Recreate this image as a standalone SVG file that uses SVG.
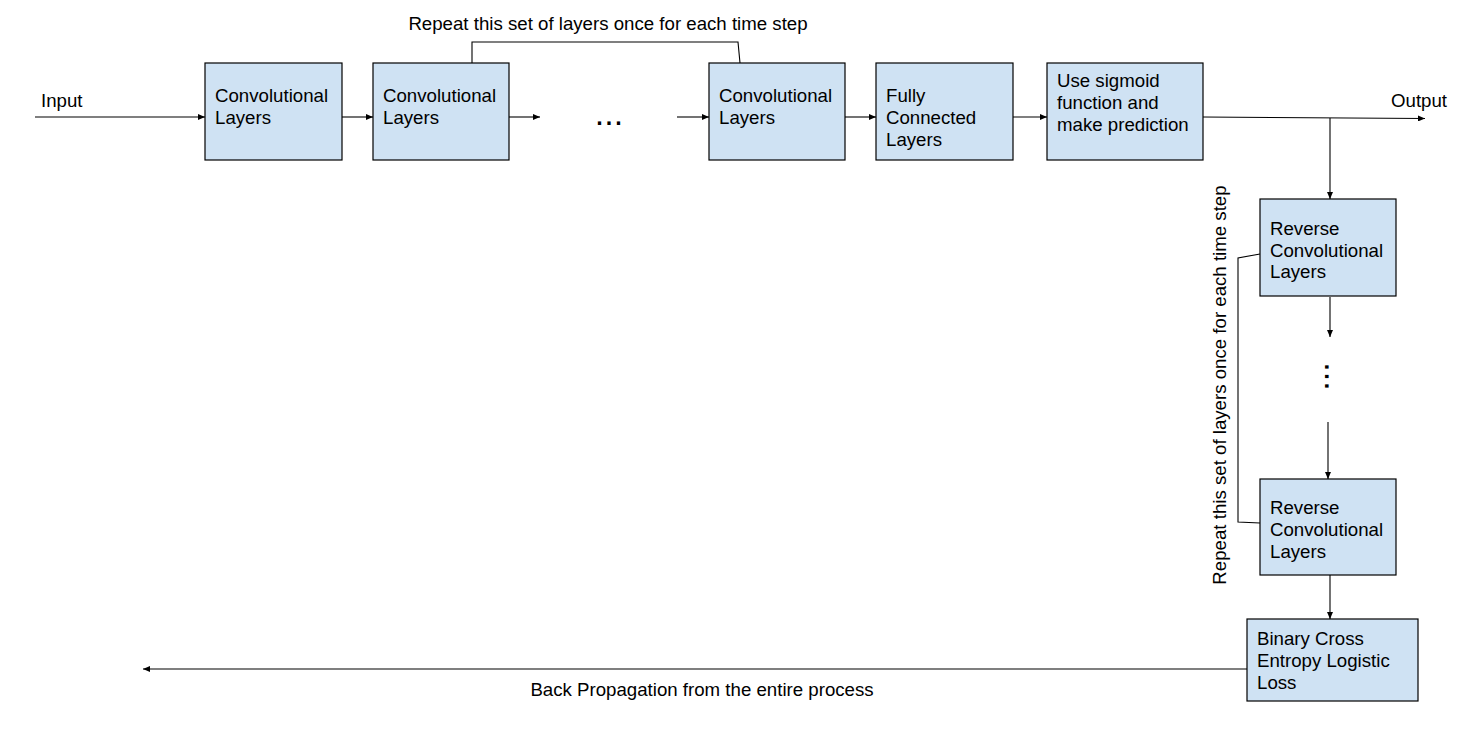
<svg xmlns="http://www.w3.org/2000/svg" width="1466" height="729" viewBox="0 0 1466 729">
<defs>
<marker id="ah" markerWidth="8" markerHeight="6" refX="7" refY="3" orient="auto" markerUnits="userSpaceOnUse">
<path d="M0,0 L7,3 L0,6 Z" fill="#000"/>
</marker>
<style>
.box{fill:#cfe2f3;stroke:#000;stroke-width:1.2}
.t{font-family:"Liberation Sans",Arial,sans-serif;font-size:18.67px;fill:#000}
.dots{font-family:"Liberation Sans",Arial,sans-serif;font-size:34px;fill:#000}
.c{fill:none;stroke:#000;stroke-width:1.1}
.a{marker-end:url(#ah)}
</style>
</defs>
<rect width="1466" height="729" fill="#fff"/>
<g id="connectors">
<line class="c a" x1="35" y1="117" x2="205" y2="117"/>
<line class="c a" x1="342" y1="117" x2="373" y2="117"/>
<line class="c a" x1="509" y1="117" x2="540" y2="117"/>
<line class="c a" x1="677" y1="117" x2="709" y2="117"/>
<line class="c a" x1="845" y1="117" x2="876" y2="117"/>
<line class="c a" x1="1013" y1="117" x2="1047" y2="117"/>
<line class="c a" x1="1203" y1="117" x2="1425" y2="118.5"/>
<line class="c a" x1="1330" y1="118" x2="1330" y2="199"/>
<line class="c a" x1="1330" y1="297" x2="1330" y2="337"/>
<line class="c a" x1="1328" y1="422" x2="1328" y2="479"/>
<line class="c a" x1="1330" y1="575" x2="1330" y2="619"/>
<line class="c a" x1="1247" y1="669" x2="143" y2="669"/>
<polyline class="c" points="472,63 472,42 738,42 740,63"/>
<polyline class="c" points="1260,254 1238,258 1238,522 1260,523"/>
</g>
<g id="input"><text class="t" x="41" y="107">Input</text></g>
<g id="output"><text class="t" x="1391" y="107">Output</text></g>
<g id="repeat-top"><text class="t" x="608" y="30" text-anchor="middle">Repeat this set of layers once for each time step</text></g>
<g id="conv1">
<rect class="box" x="205" y="63" width="137" height="97"/>
<text class="t" x="215" y="102">Convolutional</text>
<text class="t" x="215" y="124">Layers</text>
</g>
<g id="conv2">
<rect class="box" x="373" y="63" width="136" height="97"/>
<text class="t" x="383" y="102">Convolutional</text>
<text class="t" x="383" y="124">Layers</text>
</g>
<g id="hdots"><text class="dots" x="609" y="125" text-anchor="middle">...</text></g>
<g id="conv3">
<rect class="box" x="709" y="63" width="136" height="97"/>
<text class="t" x="719" y="102">Convolutional</text>
<text class="t" x="719" y="124">Layers</text>
</g>
<g id="fc">
<rect class="box" x="876" y="63" width="137" height="97"/>
<text class="t" x="886" y="102">Fully</text>
<text class="t" x="886" y="124">Connected</text>
<text class="t" x="886" y="146">Layers</text>
</g>
<g id="sigmoid">
<rect class="box" x="1047" y="63" width="156" height="97"/>
<text class="t" x="1057" y="87">Use sigmoid</text>
<text class="t" x="1057" y="109">function and</text>
<text class="t" x="1057" y="131">make prediction</text>
</g>
<g id="rev1">
<rect class="box" x="1260" y="199" width="136" height="97"/>
<text class="t" x="1270" y="235">Reverse</text>
<text class="t" x="1270" y="256.5">Convolutional</text>
<text class="t" x="1270" y="278">Layers</text>
</g>
<g id="vdots"><text class="dots" transform="translate(1327,376.5) rotate(90)" x="0" y="2" text-anchor="middle">...</text></g>
<g id="rev2">
<rect class="box" x="1260" y="479" width="136" height="96"/>
<text class="t" x="1270" y="514">Reverse</text>
<text class="t" x="1270" y="536">Convolutional</text>
<text class="t" x="1270" y="558">Layers</text>
</g>
<g id="repeat-side"><text class="t" transform="translate(1226,385) rotate(-90)" text-anchor="middle">Repeat this set of layers once for each time step</text></g>
<g id="loss">
<rect class="box" x="1247" y="619" width="171" height="82"/>
<text class="t" x="1257" y="645">Binary Cross</text>
<text class="t" x="1257" y="667">Entropy Logistic</text>
<text class="t" x="1257" y="689">Loss</text>
</g>
<g id="backprop"><text class="t" x="702" y="696" text-anchor="middle">Back Propagation from the entire process</text></g>
</svg>
